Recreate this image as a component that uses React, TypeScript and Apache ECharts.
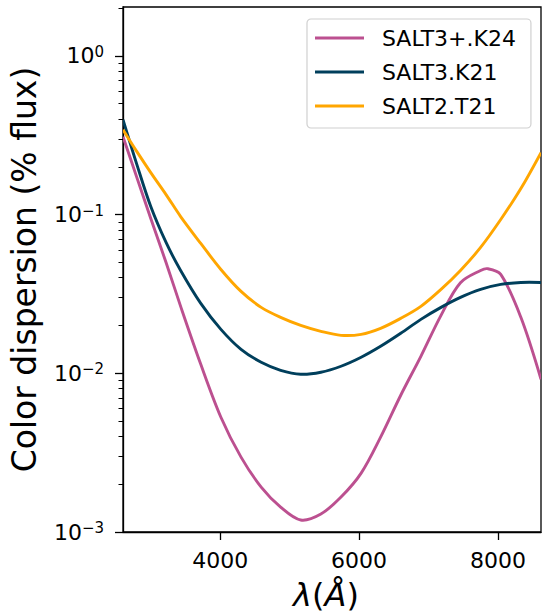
import React, { useEffect, useRef } from "react";
import * as echarts from "echarts";

const SERIES_NAMES = ["SALT3+.K24", "SALT3.K21", "SALT2.T21"];
const COLORS = ["#bc5090", "#003f5c", "#ffa600"];

const wavelength = [2600, 2800, 3000, 3220, 3430, 3720, 4010, 4300, 4590, 4870, 5160, 5450, 5740, 6030, 6310, 6600, 6890, 7180, 7460, 7750, 8040, 8330, 8620];

const k24Wavelength = [2600, 2800, 3000, 3220, 3430, 3720, 4010, 4300, 4590, 4870, 5160, 5450, 5740, 6030, 6310, 6600, 6890, 7180, 7460, 7750, 7850, 8040, 8330, 8620];
const k24Dispersion = [0.3094, 0.1709, 0.09437, 0.0499, 0.02639, 0.01139, 0.005287, 0.002962, 0.001919, 0.001436, 0.00119, 0.001298, 0.00166, 0.00235, 0.003959, 0.007272, 0.01279, 0.02317, 0.0372, 0.04444, 0.0456, 0.04195, 0.02251, 0.00917];

const k21Dispersion = [0.3959, 0.2063, 0.1123, 0.06667, 0.04444, 0.02756, 0.01891, 0.01415, 0.01173, 0.01044, 0.009856, 0.01015, 0.01107, 0.01261, 0.01478, 0.01785, 0.02186, 0.02601, 0.03006, 0.03376, 0.03628, 0.03734, 0.03734];

const t21Dispersion = [0.3424, 0.249, 0.1837, 0.1336, 0.09714, 0.06571, 0.04509, 0.03279, 0.02601, 0.02251, 0.02004, 0.01838, 0.01734, 0.01759, 0.01919, 0.02217, 0.02639, 0.03376, 0.04444, 0.06203, 0.09302, 0.1457, 0.2455];

const X_MIN = 2600;
const X_MAX = 8620;
const Y_MIN = 0.001;
const Y_MAX = 2.03;
const xTicks = [4000, 6000, 8000];
const yMajorTicks = [0.001, 0.01, 0.1, 1];
const yMinorTicks = [
  0.002, 0.003, 0.004, 0.005, 0.006, 0.007, 0.008, 0.009,
  0.02, 0.03, 0.04, 0.05, 0.06, 0.07, 0.08, 0.09,
  0.2, 0.3, 0.4, 0.5, 0.6, 0.7, 0.8, 0.9, 2,
];

const FONT = "DejaVu Sans";

function pairs(xs: number[], ys: number[]) {
  return xs.map((x, i) => [x, ys[i]]);
}

export default function App() {
  const ref = useRef<HTMLDivElement>(null);
  useEffect(() => {
    if (!ref.current) return;
    const chart = echarts.init(ref.current, null, { renderer: "svg" });
    const seriesData = [
      pairs(k24Wavelength, k24Dispersion),
      pairs(wavelength, k21Dispersion),
      pairs(wavelength, t21Dispersion),
    ];
    chart.setOption({
      animation: false,
      grid: {
        left: 122,
        right: 1,
        top: 7,
        bottom: 83,
        show: true,
        borderColor: "#000",
        borderWidth: 1.3,
        backgroundColor: "transparent",
      },
      legend: {
        left: 307,
        top: 19,
        orient: "vertical",
        selectedMode: false,
        icon: "rect",
        itemWidth: 49,
        itemHeight: 3,
        itemGap: 12,
        padding: [8, 15, 11, 8],
        backgroundColor: "#fff",
        borderColor: "#d0d0d0",
        borderWidth: 1.2,
        borderRadius: 4,
        textStyle: {
          fontFamily: FONT,
          fontSize: 22,
          lineHeight: 22,
          color: "#000",
          padding: [0, 0, 0, 13],
        },
        data: SERIES_NAMES,
      },
      xAxis: {
        type: "value",
        min: X_MIN,
        max: X_MAX,
        name: "{i|λ}{n|(}{i|Å}{n|)}",
        nameLocation: "middle",
        nameGap: 47,
        nameTextStyle: {
          padding: [0, 12, 0, 0],
          rich: {
            i: { fontFamily: FONT, fontSize: 32, fontStyle: "italic", color: "#000" },
            n: { fontFamily: FONT, fontSize: 32, color: "#000" },
          },
        },
        axisLine: { show: true, lineStyle: { color: "#000", width: 1.3 } },
        axisTick: { show: true, customValues: xTicks, length: 8, lineStyle: { color: "#000", width: 1.3 } },
        axisLabel: {
          customValues: xTicks,
          margin: 17,
          fontFamily: FONT,
          fontSize: 22,
          color: "#000",
          formatter: (v: number) => String(v),
        },
        splitLine: { show: false },
      },
      yAxis: [
        {
          type: "log",
          logBase: 10,
          min: Y_MIN,
          max: Y_MAX,
          position: "left",
          name: "Color dispersion (% flux)",
          nameLocation: "middle",
          nameGap: 82,
          nameTextStyle: { fontFamily: FONT, fontSize: 33, color: "#000" },
          axisLine: { show: true, lineStyle: { color: "#000", width: 1.3 } },
          axisTick: { show: true, customValues: yMajorTicks, length: 8, lineStyle: { color: "#000", width: 1.3 } },
          axisLabel: {
            customValues: yMajorTicks,
            margin: 19,
            formatter: (v: number) => {
              const e = Math.round(Math.log10(v));
              const s = e < 0 ? "\u2212" + -e : String(e);
              return "{b|10}{s|" + s + "}";
            },
            rich: {
              b: { fontFamily: FONT, fontSize: 22, color: "#000" },
              s: { fontFamily: FONT, fontSize: 15, color: "#000", padding: [0, 0, 8, 0] },
            },
          },
          splitLine: { show: false },
        },
        {
          type: "log",
          logBase: 10,
          min: Y_MIN,
          max: Y_MAX,
          position: "left",
          axisLine: { show: false },
          axisTick: { show: true, customValues: yMinorTicks, length: 4.5, lineStyle: { color: "#000", width: 1 } },
          axisLabel: { show: false },
          splitLine: { show: false },
        },
      ],
      series: SERIES_NAMES.map((name, i) => ({
        name,
        type: "custom",
        coordinateSystem: "cartesian2d",
        xAxisIndex: 0,
        yAxisIndex: 0,
        data: seriesData[i],
        encode: { x: 0, y: 1 },
        clip: true,
        itemStyle: { color: COLORS[i] },
        renderItem: (params: any, api: any) => {
          if (params.dataIndex !== 0) return null;
          const pts = seriesData[i].map((d) => api.coord(d));
          return {
            type: "polyline",
            silent: true,
            shape: { points: pts, smooth: 0.33 },
            style: { stroke: COLORS[i], lineWidth: 2.9, fill: null, lineJoin: "round" },
          };
        },
      })),
    });
    return () => chart.dispose();
  }, []);
  return <div ref={ref} style={{ width: 542, height: 616, position: "absolute", left: 0, top: 0 }} />;
}
